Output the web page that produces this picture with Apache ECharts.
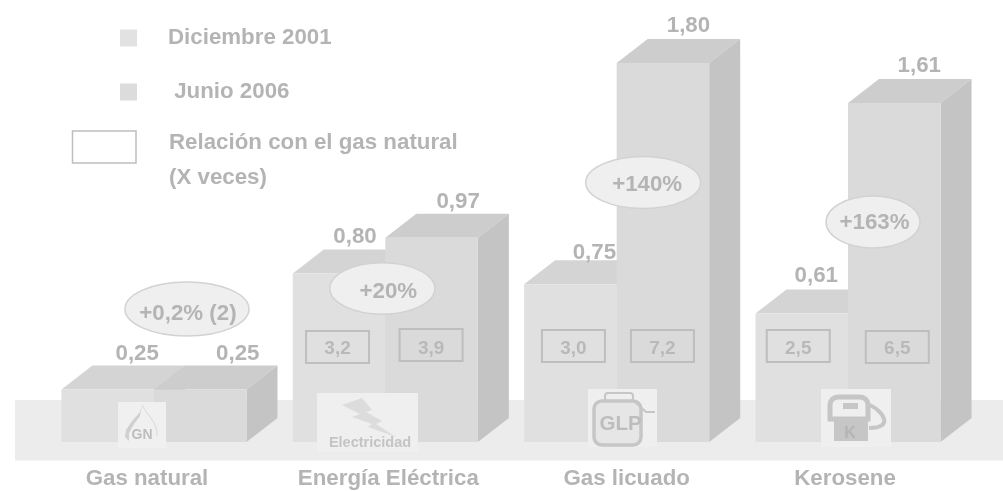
<!DOCTYPE html>
<html>
<head>
<meta charset="utf-8">
<style>html,body{margin:0;padding:0;background:#fff}#main{width:1003px;height:491px}</style>
<script src="https://cdn.jsdelivr.net/npm/echarts@6/dist/echarts.min.js"></script>
</head>
<body>
<div id="main"></div>
<script>
var categories = ['Gas natural', 'Energía Eléctrica', 'Gas licuado', 'Kerosene'];
var dic2001 = [0.25, 0.80, 0.75, 0.61];
var jun2006 = [0.25, 0.97, 1.80, 1.61];
var ratioDic = [null, '3,2', '3,0', '2,5'];
var ratioJun = [null, '3,9', '7,2', '6,5'];
var changes = ['+0,2% (2)', '+20%', '+140%', '+163%'];

// offsets in px, by hand from the picture
var labelDxDic = [29.5, 16, 24, 14.5];
var labelDxJun = [37.5, 26.5, 25.5, 25];
var labelDyDic = [-35.5, -37, -31, -37.5];
var labelDyJun = [-35.5, -36, -37, -37.5];
var boxDxDic = [0, -1.5, 3, -3.5];
var boxDxJun = [0, -0.5, -0.5, 3];
var boxDyDic = [0, 1, 0, 0];
var boxDyJun = [0, -1, 0, 1];
var ellipseDx = [33, -3, 26.5, 25];
var ellipseY = [309, 288.5, 182.5, 222];
var ellipseRx = [62, 52.5, 57.5, 47];
var ellipseRy = [27, 25.7, 26, 26];
var changeDx = [1, 6, 4, 1.5];
var changeDy = [5, 3.5, 2.5, 1];
var labelDx = [-7, 3, 10, -3];

var textColor = '#b4b4b4';
var fontFamily = '"Liberation Sans", Arial, sans-serif';
var font = 'bold 22.3px ' + fontFamily;
var depthX = 31, depthY = 24;

function fmt(v) { return v.toFixed(2).replace('.', ','); }

function barRenderer(side, front, top, dxs, dys) {
    return function (params, api) {
        var i = api.value(0);
        var band = api.size([1, 0])[0];
        var w = band * 0.4;
        var base = api.coord([i, 0]);
        var y = api.coord([i, api.value(1)])[1];
        var x0 = side < 0 ? base[0] - w : base[0];
        var x1 = x0 + w;
        return {
            type: 'group',
            children: [
                { type: 'polygon', shape: { points: [[x0, y], [x1, y], [x1 + depthX, y - depthY], [x0 + depthX, y - depthY]] }, style: { fill: top } },
                { type: 'polygon', shape: { points: [[x1, y], [x1 + depthX, y - depthY], [x1 + depthX, base[1] - depthY], [x1, base[1]]] }, style: { fill: '#c4c4c4' } },
                { type: 'rect', shape: { x: x0, y: y, width: w, height: base[1] - y }, style: { fill: front } },
                { type: 'text', style: { x: x0 + w / 2 + dxs[i], y: y + dys[i], text: fmt(api.value(1)), align: 'center', verticalAlign: 'middle', font: font, fill: textColor } }
            ]
        };
    };
}

function annotRenderer(params, api) {
    var i = api.value(0);
    var band = api.size([1, 0])[0];
    var w = band * 0.4;
    var base = api.coord([i, 0]);
    var kids = [];
    var boxFont = 'bold 19px ' + fontFamily;
    function box(cx, dy, label) {
        if (label === null) return;
        kids.push({ type: 'rect', shape: { x: cx - 31.5, y: base[1] - 112 + dy, width: 63, height: 32 }, style: { fill: 'none', stroke: '#bebebe', lineWidth: 2 } });
        kids.push({ type: 'text', style: { x: cx, y: base[1] - 93.5, text: label, align: 'center', verticalAlign: 'middle', font: boxFont, fill: '#b9b9b9' } });
    }
    box(base[0] - w / 2 + boxDxDic[i], boxDyDic[i], ratioDic[i]);
    box(base[0] + w / 2 + boxDxJun[i], boxDyJun[i], ratioJun[i]);
    var ex = base[0] + ellipseDx[i];
    kids.push({ type: 'ellipse', shape: { cx: ex, cy: ellipseY[i], rx: ellipseRx[i], ry: ellipseRy[i] }, style: { fill: '#efefef', stroke: '#d2d2d2', lineWidth: 1.5 } });
    kids.push({ type: 'text', style: { x: ex + changeDx[i], y: ellipseY[i] + changeDy[i], text: changes[i], align: 'center', verticalAlign: 'middle', font: font, fill: textColor } });
    return { type: 'group', children: kids };
}

function rows(arr) { return arr.map(function (v, i) { return [i, v]; }); }

var iconLine = '#c6c6c6';
var iconFont = function (size) { return 'bold ' + size + 'px ' + fontFamily; };
var graphics = [
    { type: 'rect', z: 0, shape: { x: 15, y: 400, width: 988, height: 60.5 }, style: { fill: '#ececec' } },
    // legend box
    { type: 'rect', z: 6, shape: { x: 72.5, y: 131, width: 63.5, height: 32 }, style: { fill: '#fff', stroke: '#bebebe', lineWidth: 1.5 } },
    { type: 'text', z: 6, style: { x: 169, y: 143, text: 'Relación con el gas natural', font: font, fill: textColor, verticalAlign: 'middle' } },
    { type: 'text', z: 6, style: { x: 169, y: 178, text: '(X veces)', font: font, fill: textColor, verticalAlign: 'middle' } },
    // GN icon
    { type: 'rect', z: 6, shape: { x: 118, y: 402, width: 48, height: 46 }, style: { fill: '#f0f0f0' } },
    { type: 'polygon', z: 6, shape: { points: [[142, 405], [140, 412], [132, 421], [126, 430], [125, 437], [129, 441], [129, 433], [134, 424], [140, 416]] }, style: { fill: '#d0d0d0' } },
    { type: 'bezierCurve', z: 6, shape: { x1: 142, y1: 405, cpx1: 146, cpy1: 414, cpx2: 158, cpy2: 422, x2: 157, y2: 436 }, style: { fill: 'none', stroke: '#d8d8d8', lineWidth: 1 } },
    { type: 'text', z: 6, style: { x: 142, y: 435, text: 'GN', font: iconFont(14), fill: '#bdbdbd', align: 'center', verticalAlign: 'middle' } },
    // electricidad icon
    { type: 'rect', z: 6, shape: { x: 317, y: 393, width: 101, height: 59 }, style: { fill: '#efefef' } },
    { type: 'polygon', z: 6, shape: { points: [[342, 405], [362, 398], [372, 410], [366, 412], [382, 421], [376, 424], [396, 437], [368, 427], [372, 424], [352, 417], [360, 414]] }, style: { fill: '#dcdcdc' } },
    { type: 'text', z: 6, style: { x: 370, y: 443, text: 'Electricidad', font: iconFont(14.5), fill: '#c4c4c4', align: 'center', verticalAlign: 'middle' } },
    // GLP icon
    { type: 'rect', z: 6, shape: { x: 588, y: 389, width: 69, height: 58 }, style: { fill: '#efefef' } },
    { type: 'rect', z: 6, shape: { x: 605, y: 393, width: 28, height: 8, r: 3 }, style: { fill: 'none', stroke: iconLine, lineWidth: 2 } },
    { type: 'rect', z: 6, shape: { x: 594, y: 401, width: 47, height: 44, r: 8 }, style: { fill: '#e6e6e6', stroke: iconLine, lineWidth: 3.5 } },
    { type: 'polyline', z: 6, shape: { points: [[633, 400], [646, 412], [655, 412]] }, style: { stroke: iconLine, lineWidth: 2, fill: 'none' } },
    { type: 'text', z: 6, style: { x: 620.5, y: 424, text: 'GLP', font: iconFont(20.5), fill: '#bdbdbd', align: 'center', verticalAlign: 'middle' } },
    // K icon
    { type: 'rect', z: 5, shape: { x: 821, y: 389, width: 70, height: 58 }, style: { fill: '#efefef' } },
    { type: 'rect', z: 6, shape: { x: 830, y: 397, width: 38, height: 22, r: [8, 8, 0, 0] }, style: { fill: 'none', stroke: iconLine, lineWidth: 5 } },
    { type: 'rect', z: 6, shape: { x: 834, y: 419, width: 34, height: 22 }, style: { fill: iconLine } },
    { type: 'rect', z: 6, shape: { x: 843, y: 403, width: 15, height: 6 }, style: { fill: iconLine } },
    { type: 'bezierCurve', z: 6, shape: { x1: 870, y1: 405, cpx1: 884, cpy1: 412, cpx2: 894, cpy2: 428, x2: 869, y2: 428 }, style: { fill: 'none', stroke: iconLine, lineWidth: 4 } },
    { type: 'text', z: 6, style: { x: 850, y: 434, text: 'K', font: iconFont(16), fill: '#b4b4b4', align: 'center', verticalAlign: 'middle' } }
];

var richLabels = {};
categories.forEach(function (c, i) {
    richLabels['c' + i] = {
        fontSize: 22.3,
        fontWeight: 'bold',
        fontFamily: fontFamily,
        color: textColor,
        padding: labelDx[i] > 0 ? [0, 0, 0, labelDx[i] * 2] : [0, -labelDx[i] * 2, 0, 0]
    };
});

var myChart = echarts.init(document.getElementById('main'), null, { renderer: 'canvas' });
var option = {
    animation: false,
    backgroundColor: '#fff',
    grid: { left: 38.3, right: 39.3, top: 21, bottom: 49 },
    legend: {
        orient: 'vertical',
        left: 120,
        top: 27,
        padding: 0,
        itemWidth: 17,
        itemHeight: 17,
        itemGap: 32,
        selectedMode: false,
        icon: 'rect',
        textStyle: { fontSize: 22.3, fontWeight: 'bold', fontFamily: fontFamily, color: textColor, padding: [0, 0, 8, 26] },
        data: ['Diciembre 2001', ' Junio 2006']
    },
    xAxis: {
        type: 'category',
        data: categories,
        axisLine: { show: false },
        axisTick: { show: false },
        axisLabel: {
            margin: 26,
            formatter: function (v) { return '{c' + categories.indexOf(v) + '|' + v + '}'; },
            rich: richLabels
        }
    },
    yAxis: { type: 'value', min: 0, max: 2, show: false, splitLine: { show: false } },
    graphic: graphics,
    series: [
        { name: 'Diciembre 2001', type: 'custom', z: 2, itemStyle: { color: '#e2e2e2' }, encode: { x: 0, y: 1 }, data: rows(dic2001), renderItem: barRenderer(-1, '#e0e0e0', '#d4d4d4', labelDxDic, labelDyDic) },
        { name: ' Junio 2006', type: 'custom', z: 3, itemStyle: { color: '#dcdcdc' }, encode: { x: 0, y: 1 }, data: rows(jun2006), renderItem: barRenderer(1, '#dadada', '#cdcdcd', labelDxJun, labelDyJun) },
        { name: 'notas', type: 'custom', z: 5, encode: { x: 0, y: 1 }, data: rows(jun2006), renderItem: annotRenderer }
    ]
};
option && myChart.setOption(option);
</script>
</body>
</html>
